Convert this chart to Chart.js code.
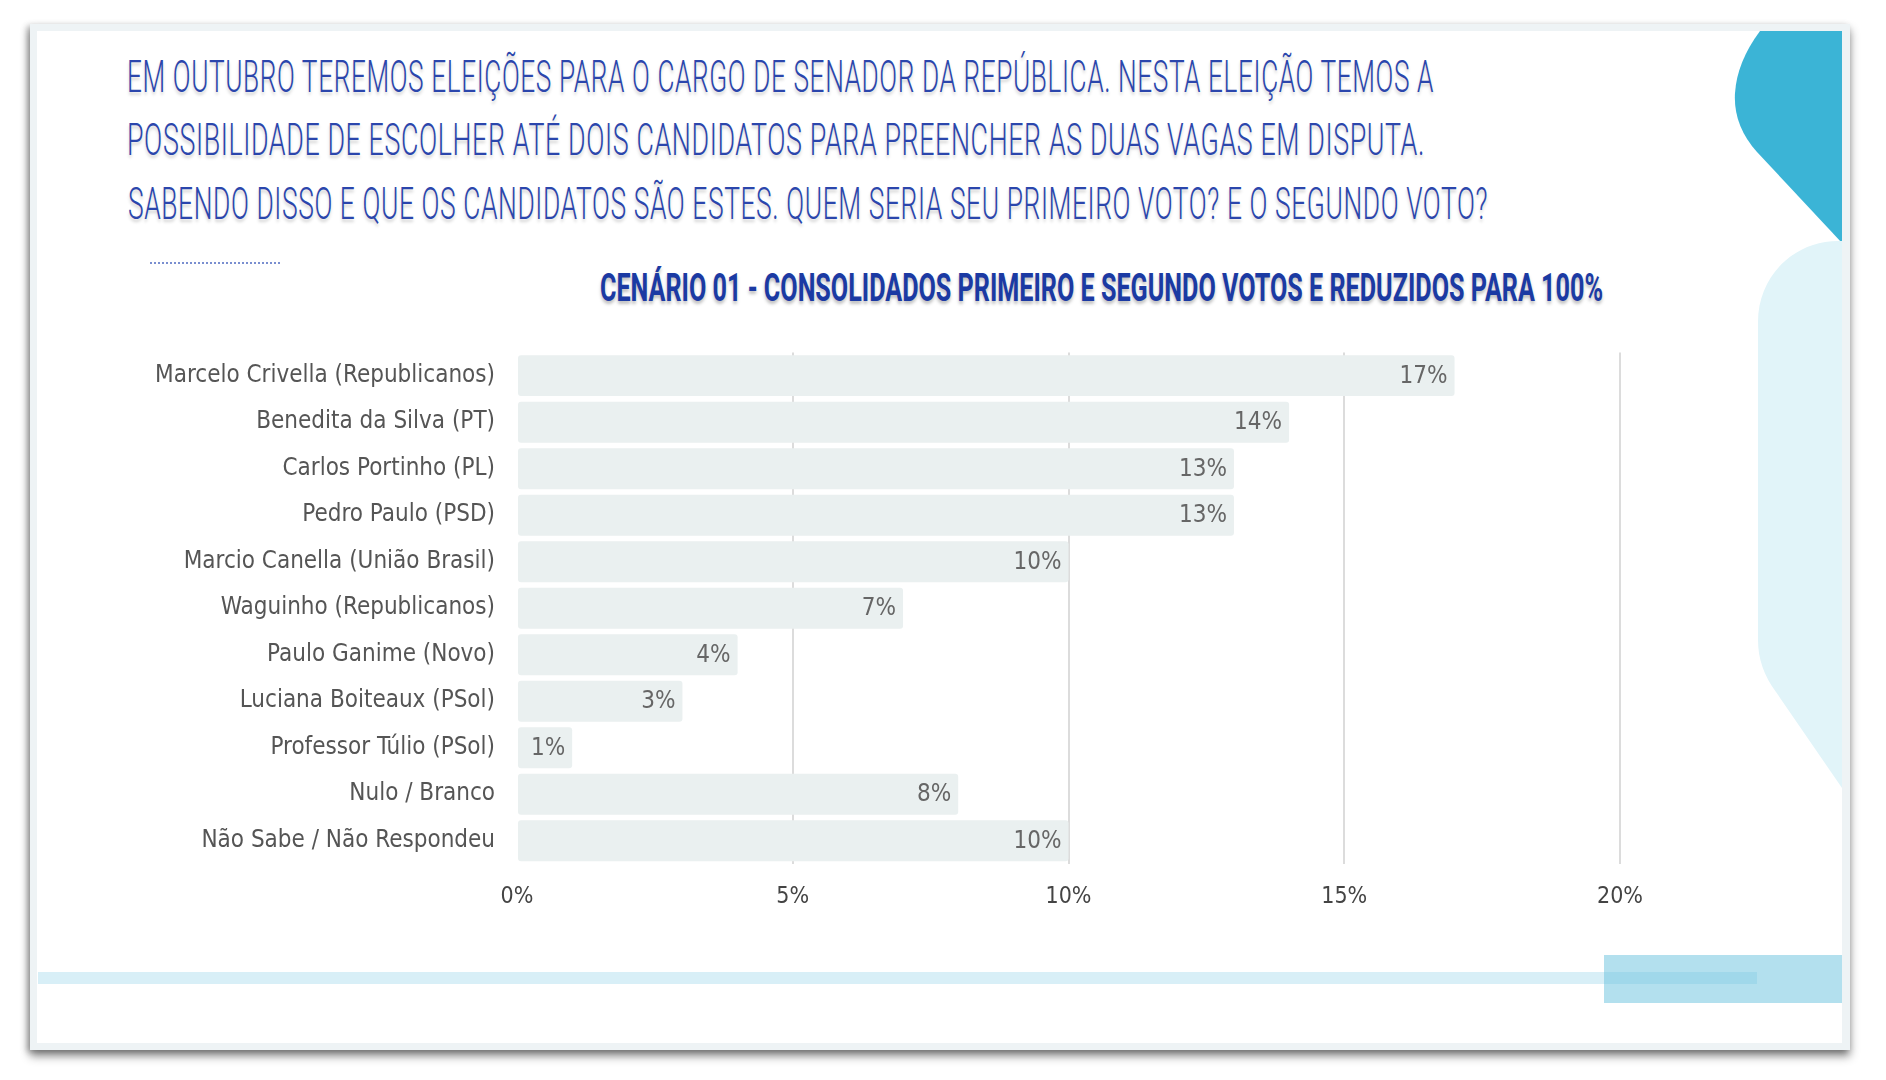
<!DOCTYPE html>
<html>
<head>
<meta charset="utf-8">
<script src="https://cdn.jsdelivr.net/npm/chart.js@4.4.1/dist/chart.umd.min.js"></script>
<style>
  html, body { margin:0; padding:0; background:#ffffff; }
  body { width:1886px; height:1080px; position:relative; overflow:hidden; }
  #card { position:absolute; left:30px; top:24px; width:1820px; height:1026px; background:#eef3f5;
          box-shadow: 0 6px 9px rgba(0,0,0,0.45), -3px 2px 6px rgba(0,0,0,0.25); }
  #inner { position:absolute; left:37px; top:31px; width:1805px; height:1012px; background:#ffffff; }
  #deco { position:absolute; left:0; top:0; }
  .tl { position:absolute; left:127px; white-space:nowrap; font-family:Roboto, sans-serif; font-weight:300;
        font-size:44px; line-height:44px; color:#2b46ac; transform-origin:0 0;
        text-shadow: 0 3px 4px rgba(0,0,0,0.18); letter-spacing:1px; }
  #sub { position:absolute; left:600px; top:269px; white-space:nowrap; font-family:Roboto, sans-serif; font-weight:700;
         font-size:38px; line-height:38px; color:#1b3aa3; transform-origin:0 0;
         text-shadow: 0 3px 4px rgba(0,0,0,0.25); }
  #dots { position:absolute; left:150px; top:262px; width:130px; height:0; border-top:2px dotted #7a8fd0; }
  #chartwrap { position:absolute; left:40px; top:324px; width:1700px; height:626px; }
</style>
</head>
<body>
<div id="card"></div>
<div id="inner"></div>
<svg id="deco" width="1886" height="1080" xmlns="http://www.w3.org/2000/svg">
  <path d="M1760,31 L1842,31 L1842,243 L1757,152 Q1733,125 1735,93 Q1737,62 1760,31 Z" fill="#3bb4d6"/>
  <path d="M1842,241 L1838,241 C1794,241 1758,276 1758,322 L1758,640 Q1758,668 1776,692 L1842,788 Z" fill="#e1f4f9"/>
  <rect x="1604" y="955" width="238" height="48" fill="#b3e0ee"/>
  <rect x="38" y="972" width="1719" height="12" fill="rgba(110,195,225,0.27)"/>
</svg>
<div class="tl" id="t1" style="top:55px">EM OUTUBRO TEREMOS ELEIÇÕES PARA O CARGO DE SENADOR DA REPÚBLICA. NESTA ELEIÇÃO TEMOS A</div>
<div class="tl" id="t2" style="top:118px">POSSIBILIDADE DE ESCOLHER ATÉ DOIS CANDIDATOS PARA PREENCHER AS DUAS VAGAS EM DISPUTA.</div>
<div class="tl" id="t3" style="top:182px;left:128px">SABENDO DISSO E QUE OS CANDIDATOS SÃO ESTES. QUEM SERIA SEU PRIMEIRO VOTO? E O SEGUNDO VOTO?</div>
<div id="dots"></div>
<div id="sub">CENÁRIO 01 - CONSOLIDADOS PRIMEIRO E SEGUNDO VOTOS E REDUZIDOS PARA 100%</div>
<div id="chartwrap"><canvas id="c" width="1700" height="626"></canvas></div>
<script>
const categories = [
  "Marcelo Crivella (Republicanos)",
  "Benedita da Silva (PT)",
  "Carlos Portinho (PL)",
  "Pedro Paulo (PSD)",
  "Marcio Canella (União Brasil)",
  "Waguinho (Republicanos)",
  "Paulo Ganime (Novo)",
  "Luciana Boiteaux (PSol)",
  "Professor Túlio (PSol)",
  "Nulo / Branco",
  "Não Sabe / Não Respondeu"
];
const values = [17, 14, 13, 13, 10, 7, 4, 3, 1, 8, 10];
const xTicks = [0, 5, 10, 15, 20];

function fit(id, target) {
  const el = document.getElementById(id);
  const w = el.getBoundingClientRect().width;
  el.style.transform = 'scaleX(' + (target / w) + ')';
}
fit('t1', 1307); fit('t2', 1298); fit('t3', 1360); fit('sub', 1003);

const FONT = "'Liberation Sans Narrow', 'DejaVu Sans Condensed', sans-serif";

const valueLabels = {
  id: 'valueLabels',
  afterDatasetsDraw(chart) {
    const ctx = chart.ctx;
    const meta = chart.getDatasetMeta(0);
    ctx.save();
    ctx.font = "24px " + FONT;
    ctx.fillStyle = '#666666';
    ctx.textAlign = 'right';
    ctx.textBaseline = 'middle';
    meta.data.forEach((bar, i) => {
      ctx.fillText(values[i] + '%', bar.x - 7, bar.y + 1);
    });
    ctx.restore();
  }
};

new Chart(document.getElementById('c'), {
  type: 'bar',
  data: {
    labels: categories,
    datasets: [{
      data: values,
      backgroundColor: '#eaf0f0',
      barPercentage: 0.88,
      categoryPercentage: 1.0,
      borderRadius: 3,
      borderSkipped: false
    }]
  },
  options: {
    indexAxis: 'y',
    responsive: false,
    animation: false,
    layout: { padding: { top: 13, right: 120, left: 0, bottom: 0 } },
    plugins: { legend: { display: false }, tooltip: { enabled: false } },
    scales: {
      y: {
        afterFit(s) { s.width = 477; },
        grid: { display: false },
        border: { display: false },
        ticks: { font: { family: FONT, size: 24 }, color: '#555555', padding: 14 }
      },
      x: {
        min: 0, max: 20,
        afterFit(s) { s.height = 86; },
        afterBuildTicks(s) { s.ticks = xTicks.map(v => ({ value: v })); },
        border: { display: false },
        grid: {
          color: (c) => (c.tick && c.tick.value === 0) ? 'rgba(0,0,0,0)' : '#dcdcdc',
          lineWidth: 2,
          drawTicks: false
        },
        ticks: {
          callback: (v) => v + '%',
          font: { family: FONT, size: 23 },
          color: '#444444',
          padding: 19
        }
      }
    }
  },
  plugins: [valueLabels]
});
</script>
</body>
</html>
